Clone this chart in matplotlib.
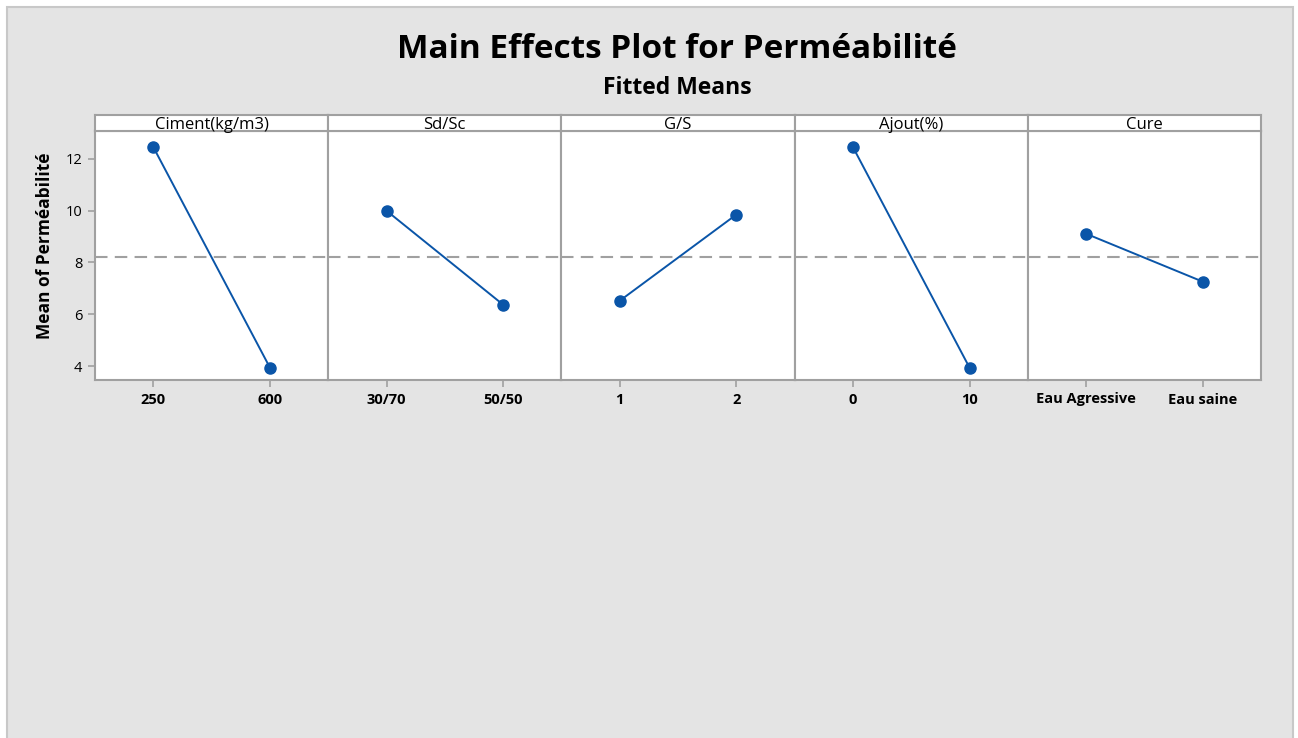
import matplotlib.pyplot as plt
from matplotlib.patches import Rectangle

# fitted means for each factor (two levels each)
factors = ['Ciment(kg/m3)', 'Sd/Sc', 'G/S', 'Ajout(%)', 'Cure']
levels = [['250', '600'], ['30/70', '50/50'], ['1', '2'], ['0', '10'],
          ['Eau Agressive', 'Eau saine']]
fitted_means = [[12.46, 3.94], [10.0, 6.37], [6.52, 9.85], [12.46, 3.94],
                [9.11, 7.26]]
grand_mean = 8.2
y_ticks = [4, 6, 8, 10, 12]

plt.rcParams['font.family'] = ['Open Sans', 'DejaVu Sans']

W, H = 1298, 738
fig = plt.figure(figsize=(W / 100, H / 100), dpi=100, facecolor='white')

# gray graph region
fig.patches.append(Rectangle((7 / W, -0.01), (1293 - 7) / W, 1.01 - 7 / H,
                             transform=fig.transFigure, facecolor='#e4e4e4',
                             edgecolor='#c8c8c8', linewidth=1.5, zorder=-5))

fig.text(677 / W, 1 - 50 / H, 'Main Effects Plot for Perméabilité',
         ha='center', va='center', fontsize=24, fontweight='bold')
fig.text(677 / W, 1 - 88 / H, 'Fitted Means', ha='center', va='center',
         fontsize=16.5, fontweight='bold')

left, right = 95, 1261
top, bottom, strip_top = 131, 380, 115
pw = (right - left) / len(factors)
edge = '#a0a0a0'
blue = '#0a55a8'

for i, (name, labs, vals) in enumerate(zip(factors, levels, fitted_means)):
    x0 = (left + i * pw) / W
    ax = fig.add_axes([x0, 1 - bottom / H, pw / W, (bottom - top) / H])
    ax.set_facecolor('white')
    ax.axhline(grand_mean, color='#a0a0a0', lw=1.5, ls=(0, (6, 3.5)), zorder=1)
    ax.plot([1, 2], vals, color=blue, lw=1.4, marker='o', ms=8,
            markeredgecolor=blue, zorder=3)
    ax.set_xlim(0.5, 2.5)
    ax.set_ylim(3.46, 13.08)
    ax.set_xticks([1, 2])
    ax.set_xticklabels(labs, fontsize=10.5, fontweight='bold')
    if i == 0:
        ax.set_yticks(y_ticks)
        ax.set_yticklabels([str(t) for t in y_ticks], fontsize=10.5)
    else:
        ax.set_yticks([])
    ax.tick_params(color=edge, length=5, width=1.2, pad=4)
    for sp in ax.spines.values():
        sp.set_color(edge)
        sp.set_linewidth(1.5)

    # factor strip
    sa = fig.add_axes([x0, 1 - top / H, pw / W, (top - strip_top) / H])
    sa.set_facecolor('white')
    sa.set_xticks([])
    sa.set_yticks([])
    for sp in sa.spines.values():
        sp.set_color(edge)
        sp.set_linewidth(1.5)
    sa.text(0.5, 0.4, name, ha='center', va='center', fontsize=12,
            transform=sa.transAxes, zorder=5, clip_on=False)

fig.text(45 / W, 1 - 246 / H, 'Mean of Perméabilité', rotation=90,
         ha='center', va='center', fontsize=12.5, fontweight='bold')

fig.savefig('out.png', dpi=100, facecolor=fig.get_facecolor())
